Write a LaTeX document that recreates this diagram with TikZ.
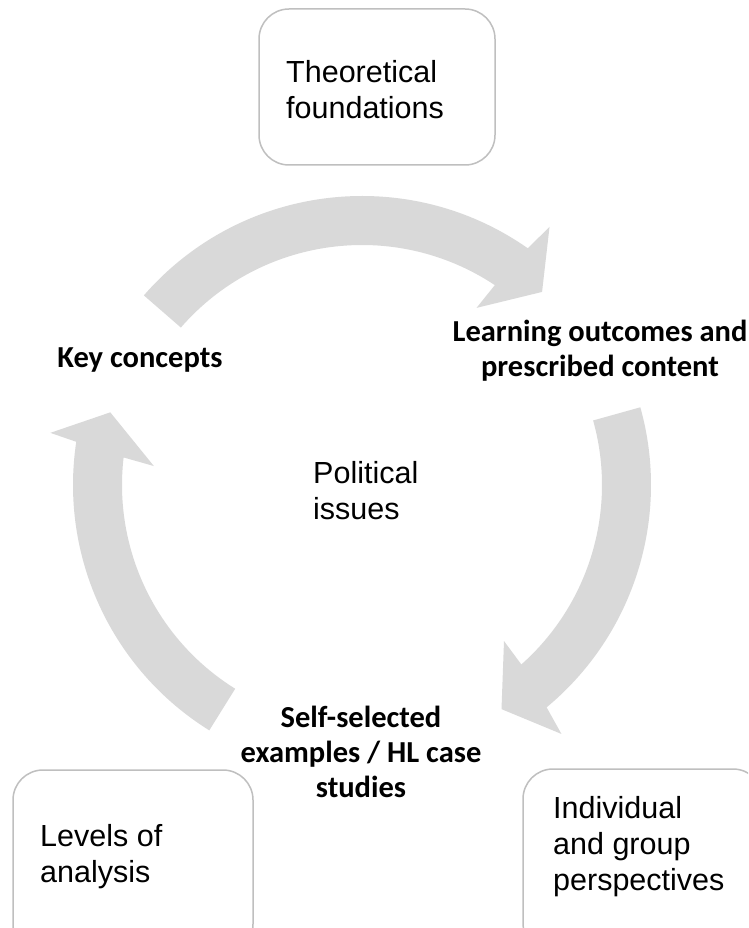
\documentclass[tikz,border=0pt]{standalone}
\usepackage{fontspec}
\setmainfont{Liberation Sans}
\newfontfamily\calib{Carlito}
\usetikzlibrary{calc}
\definecolor{arrowgray}{HTML}{D9D9D9}
\definecolor{boxgray}{HTML}{BFBFBF}
\tikzset{
  cbox/.style={draw=boxgray, line width=1.5pt, rounded corners=30pt, fill=white,
    minimum width=#1, inner sep=0pt},
  boxtext/.style={font=\fontsize{30.5}{36}\selectfont, align=left, anchor=north west, inner sep=0pt},
  cyclabel/.style={font=\calib\bfseries\fontsize{30.5}{35}\selectfont, align=center, inner sep=0pt},
  cycarrow/.style={fill=arrowgray}
}
\begin{document}
\begin{tikzpicture}[x=1pt,y=1pt]
\useasboundingbox (0,0) rectangle (748,-928);
\fill[white] (0,0) rectangle (748,-928);
\clip (0,0) rectangle (748,-928);
\coordinate (C) at (362,-485);
% cycle arrows
\fill[cycarrow] ($(C)+(139:289)$) arc[start angle=139, end angle=55, radius=289]
  -- ($(C)+(54:319)$) -- ($(C)+(47:264)$) -- ($(C)+(57.1:211)$)
  -- ($(C)+(56.4:240)$) arc[start angle=56.4, end angle=139, radius=240] -- cycle;
\fill[cycarrow] ($(C)+(15.6:289)$) arc[start angle=15.6, end angle=-50.3, radius=289]
  -- ($(C)+(-51.3:319)$) -- ($(C)+(-58.1:264)$) -- ($(C)+(-47.7:211)$)
  -- ($(C)+(-48.4:240)$) arc[start angle=-48.4, end angle=15.6, radius=240] -- cycle;
\fill[cycarrow] ($(C)+(238.1:289)$) arc[start angle=238.1, end angle=171.4, radius=289]
  -- ($(C)+(170.5:316)$) -- ($(C)+(163.9:262)$) -- ($(C)+(174.8:209)$)
  -- ($(C)+(173.4:240)$) arc[start angle=173.4, end angle=238.1, radius=240] -- cycle;
% boxes
\node[cbox=236pt, minimum height=156pt] (tfbox) at (377,-87) {};
\node[cbox=240pt, minimum height=184pt] (lvbox) at (133,-862) {};
\node[cbox=240pt, minimum height=184pt] (igbox) at (643,-861) {};
% box texts
\node[boxtext] (tf) at (286,-60) {Theoretical\\foundations};
\node[boxtext] (lv) at (40,-824) {Levels of\\analysis};
\node[boxtext] (ig) at (553,-796) {Individual\\and group\\perspectives};
\node[boxtext] (pi) at (313,-461) {Political\\issues};
% cycle labels
\node[cyclabel, anchor=base] (kc) at (140,-367) {Key concepts};
\node[cyclabel, anchor=north] (lo) at (600,-320) {Learning outcomes and\\prescribed content};
\node[cyclabel, anchor=north] (ss) at (361,-706) {Self-selected\\examples / HL case\\studies};
\end{tikzpicture}
\end{document}
